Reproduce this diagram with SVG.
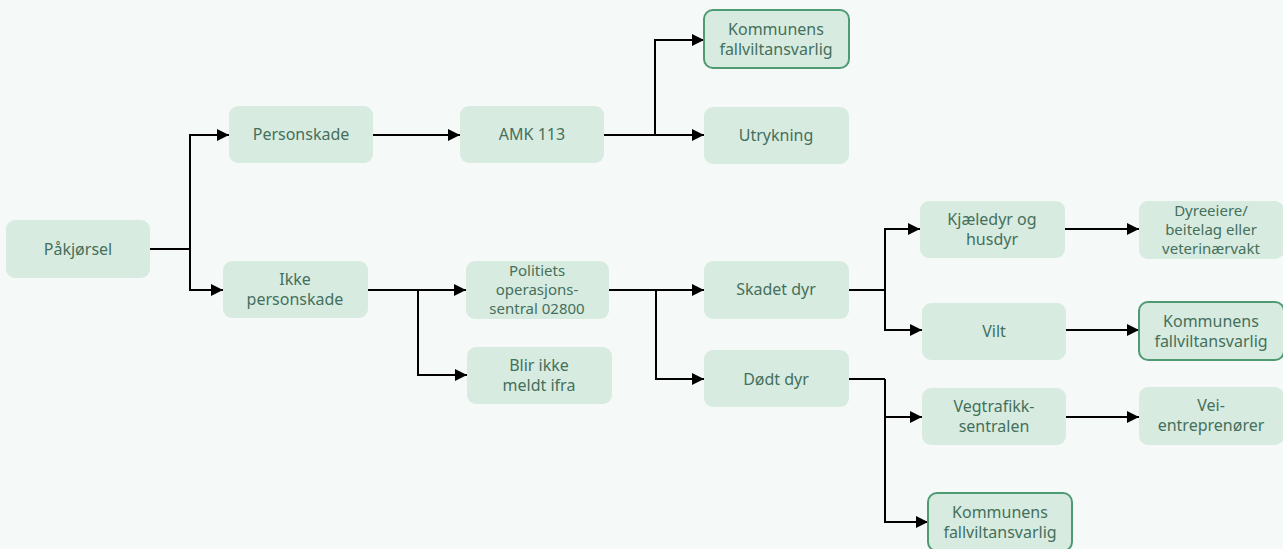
<svg xmlns="http://www.w3.org/2000/svg" width="1283" height="549" viewBox="0 0 1283 549">
<defs>
<marker id="ah" viewBox="0 0 10 10" refX="10" refY="5" markerWidth="14" markerHeight="12" markerUnits="userSpaceOnUse" orient="auto">
<path d="M0,0 L10,5 L0,10 Z" fill="#000"/>
</marker>
<style>
.n{fill:#d8ebe0;rx:9;ry:9}
.h{stroke:#4e9a72;stroke-width:2}
.t{font-family:"Noto Sans","Open Sans",sans-serif;font-size:16px;fill:#44705c;text-anchor:middle}
.s{font-size:15px}
.c{fill:none;stroke:#000;stroke-width:2}
.a{marker-end:url(#ah)}
</style>
</defs>
<rect width="1283" height="549" fill="#f5f9f8"/>
<g id="connectors">
<path class="c" d="M150,249 H190"/>
<path class="c a" d="M190,249 V135 H229"/>
<path class="c a" d="M190,249 V290 H223"/>
<path class="c a" d="M373,135 H460"/>
<path class="c a" d="M604,135 H704"/>
<path class="c a" d="M655,135 V40 H704"/>
<path class="c a" d="M368,290 H466"/>
<path class="c a" d="M418,290 V375 H467"/>
<path class="c a" d="M609,290 H704"/>
<path class="c a" d="M656,290 V379 H704"/>
<path class="c" d="M849,290 H885"/>
<path class="c a" d="M885,290 V229 H920"/>
<path class="c a" d="M885,290 V330 H922"/>
<path class="c" d="M849,379 H885"/>
<path class="c a" d="M885,379 V417 H922"/>
<path class="c a" d="M885,417 V522 H928"/>
<path class="c a" d="M1065,229 H1139"/>
<path class="c a" d="M1066,330 H1139"/>
<path class="c a" d="M1066,417 H1139"/>
</g>
<g id="n-pakjorsel"><rect class="n" x="6" y="220" width="144" height="58"/><text class="t" x="78" y="255">Påkjørsel</text></g>
<g id="n-personskade"><rect class="n" x="229" y="106" width="144" height="57"/><text class="t" x="301" y="140">Personskade</text></g>
<g id="n-ikke"><rect class="n" x="223" y="261" width="145" height="57"/><text class="t" x="295" y="285">Ikke</text><text class="t" x="295" y="305">personskade</text></g>
<g id="n-amk"><rect class="n" x="460" y="106" width="144" height="57"/><text class="t" x="532" y="140">AMK 113</text></g>
<g id="n-kommunens1"><rect class="n h" x="704" y="10" width="145" height="58"/><text class="t" x="776" y="35">Kommunens</text><text class="t" x="776" y="55">fallviltansvarlig</text></g>
<g id="n-utrykning"><rect class="n" x="704" y="107" width="145" height="57"/><text class="t" x="776" y="141">Utrykning</text></g>
<g id="n-politiets"><rect class="n" x="466" y="261" width="143" height="58"/><text class="t s" x="537" y="276">Politiets</text><text class="t s" x="537" y="295">operasjons-</text><text class="t s" x="537" y="314">sentral 02800</text></g>
<g id="n-blir"><rect class="n" x="467" y="347" width="145" height="57"/><text class="t" x="539" y="371">Blir ikke</text><text class="t" x="539" y="391">meldt ifra</text></g>
<g id="n-skadet"><rect class="n" x="704" y="261" width="145" height="58"/><text class="t" x="776" y="295">Skadet dyr</text></g>
<g id="n-dodt"><rect class="n" x="704" y="350" width="145" height="57"/><text class="t" x="776" y="385">Dødt dyr</text></g>
<g id="n-kjaeledyr"><rect class="n" x="920" y="201" width="145" height="57"/><text class="t" x="992" y="225">Kjæledyr og</text><text class="t" x="992" y="245">husdyr</text></g>
<g id="n-vilt"><rect class="n" x="922" y="303" width="144" height="57"/><text class="t" x="994" y="337">Vilt</text></g>
<g id="n-vegtrafikk"><rect class="n" x="922" y="388" width="144" height="57"/><text class="t" x="994" y="412">Vegtrafikk-</text><text class="t" x="994" y="432">sentralen</text></g>
<g id="n-kommunens3"><rect class="n h" x="928" y="493" width="144" height="58"/><text class="t" x="1000" y="518">Kommunens</text><text class="t" x="1000" y="538">fallviltansvarlig</text></g>
<g id="n-dyreeiere"><rect class="n" x="1139" y="201" width="145" height="58"/><text class="t s" x="1211" y="216">Dyreeiere/</text><text class="t s" x="1211" y="235">beitelag eller</text><text class="t s" x="1211" y="254">veterinærvakt</text></g>
<g id="n-kommunens2"><rect class="n h" x="1139" y="302" width="145" height="58"/><text class="t" x="1211" y="327">Kommunens</text><text class="t" x="1211" y="347">fallviltansvarlig</text></g>
<g id="n-vei"><rect class="n" x="1139" y="387" width="145" height="58"/><text class="t" x="1211" y="411">Vei-</text><text class="t" x="1211" y="431">entreprenører</text></g>
</svg>
